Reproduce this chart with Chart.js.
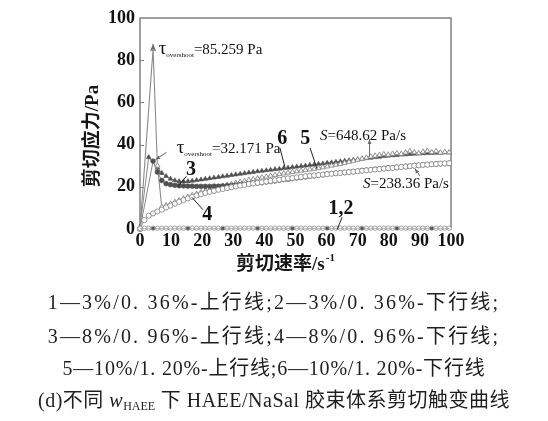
<!DOCTYPE html>
<html>
<head>
<meta charset="utf-8">
<script src="https://cdn.jsdelivr.net/npm/chart.js@4.4.1/dist/chart.umd.min.js"></script>
<style>
  html, body { margin: 0; padding: 0; background: #fff; }
  #wrap { position: relative; width: 548px; height: 421px; }
  #plot { position: absolute; left: 0; top: 0; }
  .cap {
    position: absolute; left: 0; width: 548px; text-align: center;
    font-family: "Liberation Serif", "Noto Sans CJK SC", serif;
    font-size: 20px; line-height: 20px; color: #1e1e1e; white-space: nowrap;
  }
  .cap sub { font-size: 12px; vertical-align: -3px; line-height: 0; letter-spacing: 0; }
</style>
</head>
<body>
<div id="wrap">
  <canvas id="plot" width="548" height="421"></canvas>
  <div class="cap" style="top:292px;letter-spacing:2.2px">1—3%/0. 36%-上行线;2—3%/0. 36%-下行线;</div>
  <div class="cap" style="top:326px;letter-spacing:2.2px">3—8%/0. 96%-上行线;4—8%/0. 96%-下行线;</div>
  <div class="cap" style="top:358px;letter-spacing:0.8px">5—10%/1. 20%-上行线;6—10%/1. 20%-下行线</div>
  <div class="cap" style="top:390px;letter-spacing:0.5px">(d)不同 <i>w</i><sub>HAEE</sub> 下 HAEE/NaSal 胶束体系剪切触变曲线</div>
</div>
<script>
// Shear rate grid (s^-1)
const shearRates = [
  0, 1.4, 2.8, 4.2, 5.6, 7, 8.4, 9.8, 11.2, 12.6,
  14, 15.4, 16.8, 18.2, 19.6, 21, 22.4, 23.8, 25.2, 26.6,
  28, 29.4, 30.8, 32.2, 33.6, 35, 36.4, 37.8, 39.2, 40.6,
  42, 43.4, 44.8, 46.2, 47.6, 49, 50.4, 51.8, 53.2, 54.6,
  56, 57.4, 58.8, 60.2, 61.6, 63, 64.4, 65.8, 67.2, 68.6,
  70, 71.4, 72.8, 74.2, 75.6, 77, 78.4, 79.8, 81.2, 82.6,
  84, 85.4, 86.8, 88.2, 89.6, 91, 92.4, 93.8, 95.2, 96.6,
  98, 99.4
];

// Shear stress (Pa); null = no reading at that rate
// 1: 3%/0.36% up curve
const stress1 = [
  0.2, 0.3, 0.3, 0.3, 0.3, 0.3, 0.3, 0.3, 0.3, 0.3,
  0.3, 0.3, 0.3, 0.3, 0.3, 0.3, 0.3, 0.3, 0.3, 0.3,
  0.3, 0.3, 0.3, 0.3, 0.3, 0.3, 0.3, 0.3, 0.3, 0.3,
  0.3, 0.3, 0.3, 0.3, 0.3, 0.3, 0.3, 0.3, 0.3, 0.3,
  0.3, 0.3, 0.3, 0.3, 0.3, 0.3, 0.3, 0.3, 0.3, 0.3,
  0.3, 0.3, 0.3, 0.3, 0.3, 0.3, 0.3, 0.3, 0.3, 0.3,
  0.3, 0.3, 0.3, 0.3, 0.3, 0.3, 0.3, 0.3, 0.3, 0.3,
  0.3, 0.3
];
// 2: 3%/0.36% down curve
const stress2 = [
  0.3, 0.4, 0.4, 0.4, 0.4, 0.4, 0.4, 0.4, 0.4, 0.4,
  0.4, 0.4, 0.4, 0.4, 0.4, 0.4, 0.4, 0.4, 0.4, 0.4,
  0.4, 0.4, 0.4, 0.4, 0.4, 0.4, 0.4, 0.4, 0.4, 0.4,
  0.4, 0.4, 0.4, 0.4, 0.4, 0.4, 0.4, 0.4, 0.4, 0.4,
  0.4, 0.4, 0.4, 0.4, 0.4, 0.4, 0.4, 0.4, 0.4, 0.4,
  0.4, 0.4, 0.4, 0.4, 0.4, 0.4, 0.4, 0.4, 0.4, 0.4,
  0.4, 0.4, 0.4, 0.4, 0.4, 0.4, 0.4, 0.4, 0.4, 0.4,
  0.4, 0.4
];
// 3: 8%/0.96% up curve
const stress3 = [
  0, null, null, 32.171, 27, 23, 21.5, 21, 20.7, 20.5,
  20.4, 20.3, 20.3, 20.2, 20.2, 20.2, 20.2, 20.3, 20.3, 20.4,
  20.5, 20.6, 20.8, 21.0, 21.2, 21.4, 21.6, 21.8, 22.0, 22.3,
  22.5, 22.8, 23.1, 23.4, 23.6, 23.9, 24.2, 24.4, 24.7, 25.0,
  25.2, 25.5, 25.7, 26.0, 26.2, 26.4, 26.6, 26.8, 27.0, 27.2,
  27.4, 27.7, 27.9, 28.1, 28.3, 28.5, 28.7, 28.9, 29.0, 29.2,
  29.4, 29.6, 29.8, 30.0, 30.2, 30.4, 30.5, 30.7, 30.8, 30.9,
  31.0, 31.1
];
// 4: 8%/0.96% down curve
const stress4 = [
  0, 4.2, 6.3, 7.4, 8.3, 9.2, 10.2, 11.1, 12.0, 12.9,
  13.7, 14.5, 15.2, 15.9, 16.5, 17.1, 17.6, 18.1, 18.6, 19.0,
  19.4, 19.8, 20.2, 20.6, 20.9, 21.3, 21.6, 21.9, 22.2, 22.5,
  22.8, 23.1, 23.4, 23.7, 24.0, 24.2, 24.5, 24.7, 25.0, 25.2,
  25.4, 25.6, 25.8, 26.0, 26.2, 26.4, 26.6, 26.8, 27.0, 27.2,
  27.4, 27.6, 27.8, 28.0, 28.2, 28.4, 28.6, 28.8, 29.0, 29.2,
  29.4, 29.6, 29.8, 30.0, 30.2, 30.4, 30.5, 30.7, 30.8, 31.0,
  31.1, 31.2
];
// 5: 10%/1.20% up curve
const stress5 = [
  0, null, null, 85.259, 30, 10.5, 11.2, 12.0, 12.8, 13.6,
  14.4, 15.2, 16.0, 16.7, 17.4, 18.0, 18.6, 19.2, 19.8, 20.3,
  20.8, 21.3, 21.8, 22.3, 22.7, 23.2, 23.6, 24.0, 24.4, 24.8,
  25.2, 25.6, 26.0, 26.3, 26.7, 27.0, 27.3, 27.6, 27.9, 28.2,
  28.5, 28.8, 29.2, 29.6, 30.0, 30.4, 30.8, 31.3, 31.8, 32.3,
  32.8, 33.3, 33.8, 34.3, 34.7, 35.1, 35.4, 35.2, 35.6, 35.9,
  35.6, 36.2, 36.8, 36.3, 35.9, 36.6, 37.0, 36.4, 36.8, 36.2,
  36.5, 36.3
];
// 6: 10%/1.20% down curve
const stress6 = [
  1, null, 34, null, 29, 26.5, 25, 23.8, 23, 22.6,
  22.5, 22.6, 22.8, 23.1, 23.4, 23.7, 24.0, 24.3, 24.6, 24.9,
  25.2, 25.5, 25.8, 26.1, 26.4, 26.7, 27.0, 27.3, 27.5, 27.8,
  28.0, 28.3, 28.5, 28.8, 29.0, 29.3, 29.5, 29.8, 30.0, 30.3,
  30.5, 30.8, 31.0, 31.3, 31.5, 31.8, 32.0, 32.3, 32.5, 32.8,
  33.0, 33.2, 33.5, 33.7, 34.0, 34.2, 34.5, 34.7, 34.9, 35.0,
  35.2, 35.3, 35.5, 35.6, 35.7, 35.8, 35.9, 36.0, 36.1, 36.1,
  36.2, 36.2
];

const xTicks = [0, 10, 20, 30, 40, 50, 60, 70, 80, 90, 100];
const yTicks = [0, 20, 40, 60, 80, 100];

// Values quoted in the annotations
const overshootHigh = 85.259;
const overshootLow = 32.171;
const areaHigh = 648.62;
const areaLow = 238.36;

const pts = vals => shearRates.map((r, i) => ({ x: r, y: vals[i] }));

const SERIF = '"Liberation Serif", "Noto Sans CJK SC", serif';
const LINE = '#8a8a8a';
const DARK = '#4f4f4f';

function arrow(ctx, x1, y1, x2, y2, head) {
  ctx.beginPath(); ctx.moveTo(x1, y1); ctx.lineTo(x2, y2); ctx.stroke();
  const a = Math.atan2(y2 - y1, x2 - x1);
  ctx.beginPath();
  ctx.moveTo(x2, y2);
  ctx.lineTo(x2 - head * Math.cos(a - 0.4), y2 - head * Math.sin(a - 0.4));
  ctx.lineTo(x2 - head * Math.cos(a + 0.4), y2 - head * Math.sin(a + 0.4));
  ctx.closePath(); ctx.fill();
}

const frameAndTitles = {
  id: 'frameAndTitles',
  beforeDatasetsDraw(chart) {
    const { ctx, chartArea: a, scales: { y } } = chart;
    ctx.save();
    ctx.strokeStyle = '#808080';
    ctx.lineWidth = 1.5;
    ctx.strokeRect(a.left, a.top, a.right - a.left, a.bottom - a.top);
    ctx.lineWidth = 1;
    yTicks.slice(1, -1).forEach(v => {
      const py = Math.round(y.getPixelForValue(v)) + 0.5;
      ctx.beginPath(); ctx.moveTo(a.left, py); ctx.lineTo(a.left + 4, py); ctx.stroke();
    });
    ctx.restore();
  },
  afterDraw(chart) {
    const { ctx } = chart;
    ctx.save();
    ctx.fillStyle = '#151515';
    // y-axis title
    ctx.save();
    ctx.translate(93, 136);
    ctx.rotate(-Math.PI / 2);
    ctx.font = 'bold 19px ' + SERIF;
    ctx.textAlign = 'center';
    ctx.textBaseline = 'middle';
    ctx.fillText('剪切应力/Pa', 0, 0);
    ctx.restore();
    // x-axis title with superscript
    ctx.textBaseline = 'alphabetic';
    const main = '剪切速率/s';
    ctx.font = 'bold 19px ' + SERIF;
    const w1 = ctx.measureText(main).width;
    ctx.font = 'bold 11px ' + SERIF;
    const w2 = ctx.measureText('-1').width;
    const x0 = 285 - (w1 + w2) / 2;
    ctx.font = 'bold 19px ' + SERIF;
    ctx.fillText(main, x0, 270);
    ctx.font = 'bold 11px ' + SERIF;
    ctx.fillText('-1', x0 + w1 + 1, 261);
    ctx.restore();
  }
};

const annotations = {
  id: 'annotations',
  afterDatasetsDraw(chart) {
    const { ctx, scales: { x, y } } = chart;
    const X = v => x.getPixelForValue(v);
    const Y = v => y.getPixelForValue(v);
    ctx.save();
    ctx.strokeStyle = '#6a6a6a';
    ctx.fillStyle = '#6a6a6a';
    ctx.lineWidth = 1;

    // overshoot arrows
    arrow(ctx, X(4.2), Y(overshootHigh), X(4.2), Y(overshootHigh) - 5, 6);
    arrow(ctx, X(8.6), Y(36.4), X(5.0), Y(32.9), 5);
    // area arrows
    arrow(ctx, X(73.8), Y(34.2), X(73.8), Y(42.5), 5);
    arrow(ctx, X(90), Y(25.2), X(88.4), Y(28.6), 5);

    // leader lines for curve numbers
    ctx.strokeStyle = '#222';
    const lead = (a, b, c, d) => { ctx.beginPath(); ctx.moveTo(X(a), Y(b)); ctx.lineTo(X(c), Y(d)); ctx.stroke(); };
    lead(45.0, 38.4, 46.6, 29.3);
    lead(54.7, 38.4, 56.9, 28.6);
    lead(14.9, 25.0, 12.2, 20.1);
    lead(16.7, 15.0, 20.2, 9.2);
    lead(65.0, 5.6, 63.4, -0.2);

    // curve numbers
    ctx.fillStyle = '#111';
    ctx.font = 'bold 20px ' + SERIF;
    ctx.textAlign = 'center';
    ctx.textBaseline = 'middle';
    ctx.fillText('6', X(45.7), Y(42.6));
    ctx.fillText('5', X(53.1), Y(42.6));
    ctx.fillText('3', X(16.4), Y(28.2));
    ctx.fillText('4', X(21.6), Y(6.6));
    ctx.fillText('1,2', X(64.6), Y(9.6));

    // τ overshoot labels
    ctx.textAlign = 'left';
    ctx.textBaseline = 'alphabetic';
    const tau = (px, py, val) => {
      ctx.font = '19px ' + SERIF;
      ctx.fillText('τ', px, py);
      let w = ctx.measureText('τ').width;
      ctx.font = '7px ' + SERIF;
      ctx.fillText('overshoot', px + w, py + 3);
      w += ctx.measureText('overshoot').width;
      ctx.font = '15px ' + SERIF;
      ctx.fillText('=' + val.toFixed(3) + ' Pa', px + w, py);
    };
    tau(X(6.0), Y(83.0), overshootHigh);
    tau(X(11.8), Y(36.2), overshootLow);

    // S (hysteresis area) labels
    const sLab = (px, py, val) => {
      ctx.font = 'italic 15px ' + SERIF;
      ctx.fillText('S', px, py);
      const w = ctx.measureText('S').width;
      ctx.font = '15px ' + SERIF;
      ctx.fillText('=' + val.toFixed(2) + ' Pa/s', px + w, py);
    };
    sLab(X(57.9), Y(42.0), areaHigh);
    sLab(X(71.7), Y(19.3), areaLow);
    ctx.restore();
  }
};

new Chart(document.getElementById('plot'), {
  type: 'scatter',
  data: {
    datasets: [
      { label: '1', data: pts(stress1), showLine: true, borderColor: '#b0b0b0', borderWidth: 1,
        pointStyle: 'rect', backgroundColor: DARK, pointBorderColor: DARK,
        pointRadius: c => (c.dataIndex % 8 === 3 ? 1.8 : 0), pointBorderWidth: 0.5 },
      { label: '2', data: pts(stress2), showLine: true, borderColor: '#b0b0b0', borderWidth: 1,
        pointStyle: 'circle', backgroundColor: '#fff', pointBorderColor: '#9a9a9a',
        pointRadius: 2.2, pointBorderWidth: 0.9 },
      { label: '4', data: pts(stress4), showLine: true, borderColor: '#9a9a9a', borderWidth: 1,
        pointStyle: 'circle', backgroundColor: '#fff', pointBorderColor: '#8a8a8a',
        pointRadius: 2.6, pointBorderWidth: 0.9 },
      { label: '3', data: pts(stress3), showLine: true, borderColor: LINE, borderWidth: 1,
        pointStyle: 'circle', backgroundColor: DARK, pointBorderColor: DARK,
        pointRadius: 2.4, pointBorderWidth: 0.6 },
      { label: '5', data: pts(stress5), showLine: true, borderColor: LINE, borderWidth: 1.1,
        pointStyle: 'triangle', backgroundColor: '#fff', pointBorderColor: '#8a8a8a',
        pointRadius: 2.9, pointBorderWidth: 0.9 },
      { label: '6', data: pts(stress6), showLine: true, borderColor: LINE, borderWidth: 1,
        pointStyle: 'triangle', backgroundColor: DARK, pointBorderColor: DARK,
        pointRadius: 2.7, pointBorderWidth: 0.6 }
    ]
  },
  options: {
    responsive: false,
    devicePixelRatio: 1,
    animation: false,
    spanGaps: true,
    clip: false,
    layout: { padding: { left: 0, top: 18, right: 97, bottom: 0 } },
    plugins: { legend: { display: false }, tooltip: { enabled: false } },
    elements: { line: { tension: 0 } },
    scales: {
      x: {
        type: 'linear', min: 0, max: 100,
        afterBuildTicks: s => { s.ticks = xTicks.map(v => ({ value: v })); },
        afterFit: s => { s.height = 192; },
        grid: { display: false, drawTicks: false }, border: { display: false },
        ticks: { color: '#111', padding: 2, maxRotation: 0, autoSkip: false,
                 font: { family: SERIF, size: 18, weight: 'bold' } }
      },
      y: {
        min: 0, max: 100,
        afterBuildTicks: s => { s.ticks = yTicks.map(v => ({ value: v })); },
        afterFit: s => { s.width = 140; },
        grid: { display: false, drawTicks: false }, border: { display: false },
        ticks: { color: '#111', padding: 5,
                 font: { family: SERIF, size: 18, weight: 'bold' } }
      }
    }
  },
  plugins: [frameAndTitles, annotations]
});
</script>
</body>
</html>
